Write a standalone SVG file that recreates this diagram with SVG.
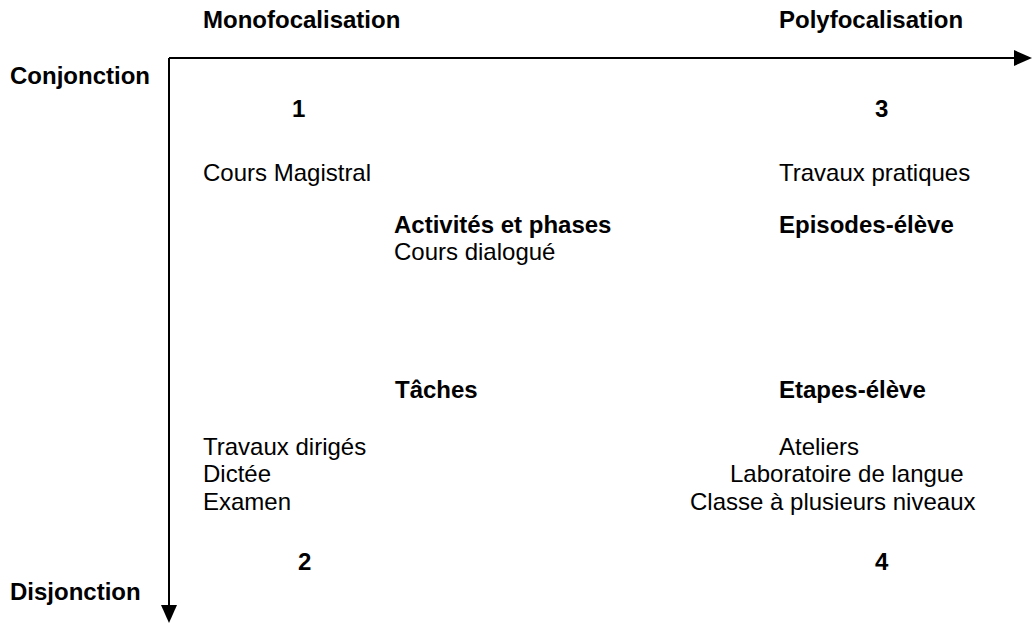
<svg xmlns="http://www.w3.org/2000/svg" width="1035" height="623" viewBox="0 0 1035 623">
<style>
text{font-family:"Liberation Sans",Arial,sans-serif;font-size:24px;fill:#000}
.b{font-weight:bold}
.ax{stroke:#000;stroke-width:2;fill:none}
</style>
<defs>
<marker id="ah" markerWidth="9" markerHeight="8" refX="1" refY="4" orient="auto" markerUnits="strokeWidth"><path d="M0,0 L9,4 L0,8 Z" fill="#000"/></marker>
</defs>
<rect width="1035" height="623" fill="#fff"/>
<g id="connectors">
<path class="ax" d="M169,58 L1016,58" marker-end="url(#ah)"/>
<path class="ax" d="M169,58 L169,607" marker-end="url(#ah)"/>
</g>
<g id="axis-labels">
<text class="b" x="203" y="28">Monofocalisation</text>
<text class="b" x="779" y="28">Polyfocalisation</text>
<text class="b" x="10" y="84">Conjonction</text>
<text class="b" x="10" y="600">Disjonction</text>
</g>
<g id="q1">
<text class="b" x="292" y="117">1</text>
<text x="203" y="181">Cours Magistral</text>
</g>
<g id="q3">
<text class="b" x="875" y="117">3</text>
<text x="779" y="181">Travaux pratiques</text>
</g>
<g id="activites">
<text class="b" x="394" y="233">Activités et phases</text>
<text x="394" y="260">Cours dialogué</text>
</g>
<g id="episodes">
<text class="b" x="779" y="233">Episodes-élève</text>
</g>
<g id="taches">
<text class="b" x="395" y="398">Tâches</text>
</g>
<g id="etapes">
<text class="b" x="779" y="398">Etapes-élève</text>
</g>
<g id="q2">
<text x="203" y="455">Travaux dirigés</text>
<text x="203" y="482">Dictée</text>
<text x="203" y="510">Examen</text>
<text class="b" x="298" y="570">2</text>
</g>
<g id="q4">
<text x="779" y="455">Ateliers</text>
<text x="730" y="482">Laboratoire de langue</text>
<text x="690" y="510">Classe à plusieurs niveaux</text>
<text class="b" x="875" y="570">4</text>
</g>
</svg>
